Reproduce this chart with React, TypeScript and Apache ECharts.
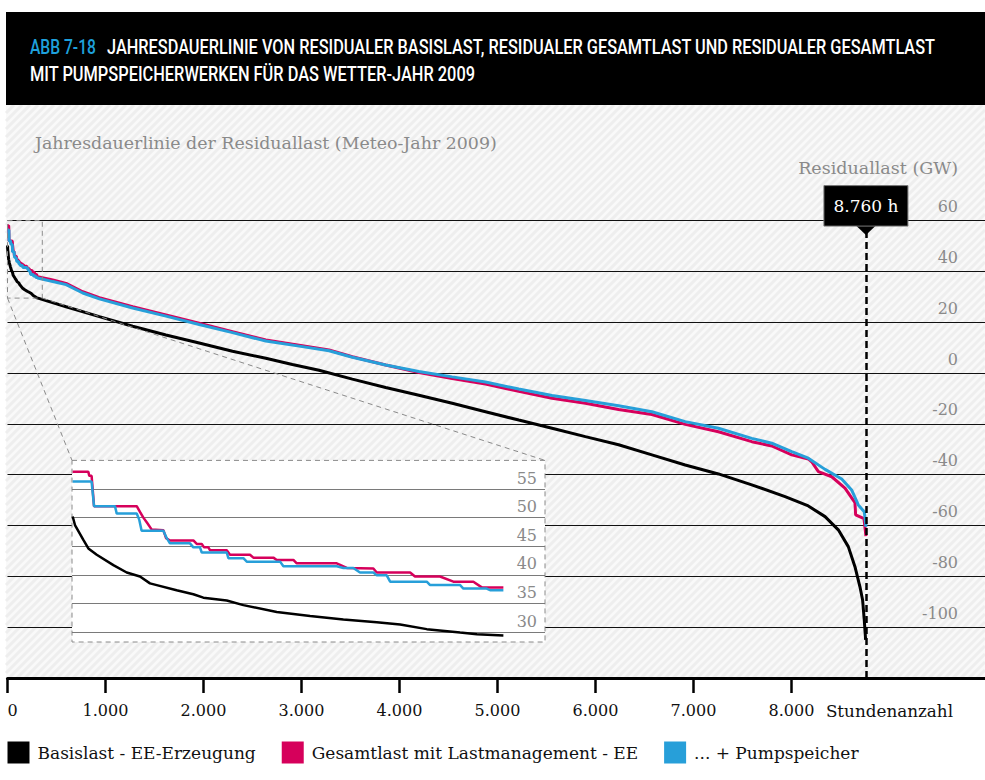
import React, { useEffect, useRef } from 'react';
import * as echarts from 'echarts';

// ---------- texts ----------
const titleCode = 'ABB 7-18';
const titleLine1 = 'JAHRESDAUERLINIE VON RESIDUALER BASISLAST, RESIDUALER GESAMTLAST UND RESIDUALER GESAMTLAST';
const titleLine2 = 'MIT PUMPSPEICHERWERKEN FÜR DAS WETTER-JAHR 2009';
const subtitle = 'Jahresdauerlinie der Residuallast (Meteo-Jahr 2009)';
const yAxisName = 'Residuallast (GW)';
const xAxisName = 'Stundenanzahl';
const seriesNames = ['Basislast - EE-Erzeugung', 'Gesamtlast mit Lastmanagement - EE', '... + Pumpspeicher'];
const seriesColors = ['#000000', '#d6005b', '#279fd9'];

// ---------- axes ----------
const xTicks = [0, 1000, 2000, 3000, 4000, 5000, 6000, 7000, 8000];
const xNameSlot = 9000;
const annualHours = 8760;
const zoomHours = [0, 355];
const zoomGW = [29.5, 60];
const insetHours = [0, 350];
const insetGW = [28.25, 60];

// ---------- data: inset (first hours, magnified) [hours, GW] ----------
const insetBasis: [number, number][] = [
  [0.5, 50.2], [2.2, 48.7], [8.4, 46.1], [12.1, 44.6], [18.3, 43.5], [30.6, 41.7], [40.5, 40.4],
  [50.3, 39.7], [57.7, 38.5], [62.7, 38.2], [77.4, 37.3], [89.8, 36.6], [97.2, 36.0], [114.5, 35.5],
  [126.8, 34.7], [151.5, 33.5], [176.2, 32.8], [200.8, 32.2], [225.5, 31.7], [242.8, 31.3],
  [262.5, 30.5], [287.2, 29.9], [299.6, 29.6], [319.2, 29.4],
];
const insetGesamt: [number, number][] = [
  [0.5, 58.0], [12.1, 58.0], [12.8, 57.3], [14.5, 57.3], [16.3, 52.0], [47.9, 52.0], [50.3, 51.0],
  [52.8, 50.0], [55.8, 49.0], [59.0, 47.9], [67.6, 47.8], [69.6, 46.4], [72.5, 46.0], [89.8, 46.0],
  [92.3, 45.4], [96.0, 45.4], [97.7, 44.8], [100.9, 44.8], [102.1, 44.3], [114.5, 44.3], [116.9, 43.5],
  [131.7, 43.5], [134.2, 43.0], [149.0, 43.0], [151.5, 42.6], [163.8, 42.6], [166.3, 42.0],
  [195.9, 42.0], [203.3, 41.2], [223.0, 41.1], [225.5, 40.4], [250.2, 40.4], [253.8, 39.7],
  [272.3, 39.7], [282.2, 38.8], [297.0, 38.8], [303.2, 37.8], [319.2, 37.8],
];
const insetPump: [number, number][] = [
  [0.5, 56.3], [14.5, 56.3], [16.3, 52.0], [31.8, 52.0], [33.1, 50.7], [47.9, 50.7], [49.8, 49.6],
  [51.5, 47.7], [67.6, 47.7], [70.1, 46.4], [72.5, 45.5], [87.3, 45.5], [89.8, 44.8], [94.7, 44.8],
  [96.0, 43.9], [114.5, 43.9], [115.7, 42.9], [126.8, 42.9], [129.3, 42.3], [154.0, 42.3],
  [156.4, 41.5], [195.9, 41.5], [200.8, 41.2], [208.2, 41.2], [213.1, 40.4], [223.0, 40.4],
  [225.5, 39.9], [232.9, 39.9], [235.4, 38.8], [262.5, 38.8], [265.0, 38.2], [287.2, 38.2],
  [289.6, 37.6], [306.9, 37.6], [309.4, 37.3], [319.2, 37.3],
];

// ---------- data: rest of the year [hours, GW] ----------
const mainBasis: [number, number][] = [
  [598, 26.1], [937, 22.2], [1277, 18.4], [1617, 15.0], [1956, 11.8], [2296, 8.6], [2636, 5.8],
  [2907, 3.4], [3179, 1.1], [3519, -2.4], [3859, -5.7], [4198, -8.7], [4538, -11.9], [4878, -15.2],
  [5217, -18.5], [5557, -21.7], [5897, -25.0], [6236, -28.2], [6576, -32.2], [6916, -36.2],
  [7255, -39.7], [7595, -44.0], [7935, -48.6], [8172, -52.3], [8343, -56.5], [8478, -61.7],
  [8580, -68.3], [8648, -76.2], [8699, -84.1], [8726, -89.3], [8743, -97.2], [8757, -105.0],
];
const mainGesamt: [number, number][] = [
  [462, 36.6], [598, 35.3], [768, 32.0], [937, 29.7], [1277, 26.1], [1617, 22.9], [1956, 19.6],
  [2296, 16.3], [2636, 13.0], [2976, 11.0], [3281, 9.1], [3519, 6.4], [3859, 3.2], [4198, 0.2],
  [4538, -2.1], [4878, -4.3], [5217, -7.2], [5557, -9.9], [5897, -11.9], [6236, -14.3],
  [6576, -16.3], [6916, -20.2], [7255, -23.1], [7595, -27.0], [7799, -28.7], [8003, -32.2],
  [8172, -33.8], [8206, -34.9], [8275, -38.8], [8411, -40.8], [8546, -45.3], [8648, -51.0],
  [8655, -55.8], [8740, -57.3], [8760, -64.2],
];
const mainPump: [number, number][] = [
  [462, 36.0], [598, 34.8], [768, 31.5], [937, 29.2], [1277, 25.6], [1617, 22.4], [1956, 19.1],
  [2296, 15.9], [2636, 12.6], [2976, 10.6], [3281, 8.8], [3519, 6.2], [3859, 3.2], [4198, 0.6],
  [4538, -1.5], [4878, -3.5], [5217, -6.3], [5557, -8.8], [5897, -10.8], [6236, -12.9],
  [6576, -15.2], [6916, -19.1], [7255, -21.7], [7595, -25.7], [7799, -27.6], [8003, -30.9],
  [8172, -33.5], [8343, -37.9], [8513, -41.7], [8614, -46.0], [8682, -51.9], [8743, -54.6],
  [8757, -59.1], [8760, -60.5],
];

const SERIF = "'DejaVu Serif', serif";
const GRAY = '#8a8a8a';

const fmtDE = (v: number) => String(v).replace(/\B(?=(\d{3})+(?!\d))/g, '.');

const measure = (text: string, font: string) => {
  const ctx = document.createElement('canvas').getContext('2d');
  if (!ctx) return 100;
  ctx.font = font;
  return ctx.measureText(text).width;
};

export default function App() {
  const ref = useRef<HTMLDivElement>(null);

  useEffect(() => {
    if (!ref.current) return;
    const chart = echarts.init(ref.current, undefined, { renderer: 'svg' });

    const insetSets = [insetBasis, insetGesamt, insetPump];
    const mainSets = [
      [...insetBasis, ...mainBasis],
      [...insetGesamt, ...mainGesamt],
      [...insetPump, ...mainPump],
    ];

    const option: any = {
      animation: false,
      backgroundColor: '#ffffff',
      legend: {
        left: 7.5,
        top: 741.5,
        padding: 0,
        itemWidth: 22,
        itemHeight: 22,
        itemGap: 26,
        icon: 'rect',
        selectedMode: false,
        data: seriesNames,
        textStyle: { fontFamily: SERIF, fontSize: 17, color: '#111', padding: [0, 0, 0, 3] },
      },
      grid: [
        { left: 7.5, right: 0, top: 220.6, bottom: 102 },
        { left: 72, right: 440, top: 460.4, bottom: 148 },
      ],
      xAxis: [
        {
          gridIndex: 0,
          type: 'value',
          min: 0,
          max: 9975,
          axisLine: { onZero: false, lineStyle: { color: '#000', width: 3 } },
          axisTick: { show: true, length: 15, customValues: xTicks, lineStyle: { color: '#000', width: 2.5 } },
          axisLabel: {
            customValues: [...xTicks, xNameSlot],
            formatter: (v: number) => (v === xNameSlot ? '{n|' + xAxisName + '}' : fmtDE(v)),
            rich: { n: { fontFamily: SERIF, fontSize: 16.8, color: '#111' } },
            margin: 24,
            color: '#111',
            fontFamily: SERIF,
            fontSize: 16,
            alignMinLabel: 'left',
          },
          splitLine: { show: false },
        },
        {
          gridIndex: 1,
          type: 'value',
          min: insetHours[0],
          max: insetHours[1],
          show: false,
        },
      ],
      yAxis: [
        {
          gridIndex: 0,
          type: 'value',
          min: -120,
          max: 60,
          interval: 20,
          position: 'right',
          name: yAxisName,
          nameLocation: 'end',
          nameGap: 53,
          nameTextStyle: {
            align: 'right',
            verticalAlign: 'middle',
            padding: [0, 27, 0, 0],
            color: GRAY,
            fontFamily: SERIF,
            fontSize: 17.5,
          },
          axisLine: { show: false, onZero: false },
          axisTick: { show: false },
          axisLabel: {
            inside: true,
            margin: 27,
            verticalAlign: 'bottom',
            lineHeight: 18,
            padding: [0, 0, 5, 0],
            color: GRAY,
            fontFamily: SERIF,
            fontSize: 16,
            formatter: (v: number) => (v === -120 ? '' : String(v)),
          },
          splitLine: { lineStyle: { color: '#111', width: 1 } },
        },
        {
          gridIndex: 1,
          type: 'value',
          min: 30,
          max: 60,
          interval: 5,
          position: 'right',
          z: 10,
          axisLine: { show: false, onZero: false },
          axisTick: { show: false },
          axisLabel: {
            inside: true,
            margin: 8,
            verticalAlign: 'bottom',
            lineHeight: 18,
            padding: [0, 0, 2, 0],
            color: GRAY,
            fontFamily: SERIF,
            fontSize: 16,
            showMaxLabel: false,
            formatter: (v: number) => (v === 60 ? '' : String(v)),
          },
          splitLine: { showMaxLine: false, lineStyle: { color: '#7a7a7a', width: 1 } },
        },
      ],
      series: [
        ...mainSets.map((d, i) => ({
          name: seriesNames[i],
          type: 'line',
          xAxisIndex: 0,
          yAxisIndex: 0,
          data: d,
          showSymbol: false,
          symbol: 'none',
          z: 2 + i * 0.1,
          lineStyle: { color: seriesColors[i], width: 3 },
          itemStyle: { color: seriesColors[i] },
          markLine:
            i === 0
              ? {
                  silent: true,
                  symbol: ['none', 'none'],
                  label: { show: false },
                  lineStyle: { color: '#000', width: 2.5, type: [7, 4] },
                  data: [{ xAxis: annualHours }],
                }
              : undefined,
        })),
        ...insetSets.map((d, i) => ({
          name: seriesNames[i],
          type: 'line',
          xAxisIndex: 1,
          yAxisIndex: 1,
          data: d,
          showSymbol: false,
          symbol: 'none',
          clip: false,
          z: 11 + i * 0.1,
          lineStyle: { color: seriesColors[i], width: 2.5 },
          itemStyle: { color: seriesColors[i] },
        })),
      ],
    };

    chart.setOption(option);

    // ----- decorations computed from the axes -----
    const W = 985;
    const bgTop = 105;
    const bgLeft = 6;
    const axisY = chart.convertToPixel({ gridIndex: 0 }, [0, -120]) as number[];
    const bgBottom = axisY[1];

    const hatch: any[] = [];
    const step = 8;
    for (let c = bgLeft + bgTop; c <= W + bgBottom; c += step) {
      const xa = Math.max(bgLeft, c - bgBottom);
      const xb = Math.min(W, c - bgTop);
      if (xa < xb) {
        hatch.push({
          type: 'line',
          silent: true,
          z: -9,
          shape: { x1: xa, y1: c - xa, x2: xb, y2: c - xb },
          style: { stroke: '#eeeeee', lineWidth: 3 },
        });
      }
    }

    const zb0 = chart.convertToPixel({ gridIndex: 0 }, [zoomHours[0], zoomGW[1]]) as number[];
    const zb1 = chart.convertToPixel({ gridIndex: 0 }, [zoomHours[1], zoomGW[0]]) as number[];
    const ib0 = chart.convertToPixel({ gridIndex: 1 }, [insetHours[0], insetGW[1]]) as number[];
    const ib1 = chart.convertToPixel({ gridIndex: 1 }, [insetHours[1], insetGW[0]]) as number[];
    const markPt = chart.convertToPixel({ gridIndex: 0 }, [annualHours, 60]) as number[];
    const markX = markPt[0];
    const markTop = markPt[1];

    const titleFont = (s: number) => `500 ${s}px Roboto`;
    const tSize = 20;
    const sCode = 66 / measure(titleCode, titleFont(tSize));
    const sL1 = 828 / measure(titleLine1, titleFont(tSize));
    const sL2 = 446 / measure(titleLine2, titleFont(tSize));

    const dash = { stroke: '#8a8a8a', lineWidth: 1, lineDash: [5, 4], fill: null };

    const graphic: any[] = [
      {
        type: 'rect',
        silent: true,
        z: -10,
        shape: { x: bgLeft, y: bgTop, width: W - bgLeft, height: bgBottom - bgTop },
        style: { fill: '#f9f9f9' },
      },
      ...hatch,
      {
        type: 'rect',
        silent: true,
        z: 20,
        shape: { x: 6, y: 12, width: W - 6, height: bgTop - 12 },
        style: { fill: '#000' },
      },
      {
        type: 'text',
        silent: true,
        z: 21,
        x: 30,
        y: 47,
        scaleX: sCode,
        style: { text: titleCode, fill: '#1ea0dc', fontFamily: 'Roboto', fontWeight: 500, fontSize: tSize, verticalAlign: 'middle', align: 'left' },
      },
      {
        type: 'text',
        silent: true,
        z: 21,
        x: 107,
        y: 47,
        scaleX: sL1,
        style: { text: titleLine1, fill: '#fff', fontFamily: 'Roboto', fontWeight: 500, fontSize: tSize, verticalAlign: 'middle', align: 'left' },
      },
      {
        type: 'text',
        silent: true,
        z: 21,
        x: 30,
        y: 73.5,
        scaleX: sL2,
        style: { text: titleLine2, fill: '#fff', fontFamily: 'Roboto', fontWeight: 500, fontSize: tSize, verticalAlign: 'middle', align: 'left' },
      },
      {
        type: 'text',
        silent: true,
        z: 21,
        x: 35,
        y: 143,
        style: { text: subtitle, fill: GRAY, fontFamily: SERIF, fontSize: 17.4, verticalAlign: 'middle', align: 'left' },
      },
      // zoom window in the main chart
      {
        type: 'rect',
        silent: true,
        z: 3,
        shape: { x: zb0[0], y: zb0[1], width: zb1[0] - zb0[0], height: zb1[1] - zb0[1] },
        style: dash,
      },
      {
        type: 'line',
        silent: true,
        z: 3,
        shape: { x1: zb0[0], y1: zb1[1], x2: ib0[0], y2: ib0[1] },
        style: dash,
      },
      {
        type: 'line',
        silent: true,
        z: 3,
        shape: { x1: zb1[0], y1: zb1[1], x2: ib1[0], y2: ib0[1] },
        style: dash,
      },
      // inset panel
      {
        type: 'rect',
        silent: true,
        z: 5,
        shape: { x: ib0[0], y: ib0[1], width: ib1[0] - ib0[0], height: ib1[1] - ib0[1] },
        style: { fill: '#fff', stroke: '#8a8a8a', lineWidth: 1, lineDash: [5, 4] },
      },
      // 8.760 h marker
      {
        type: 'polygon',
        silent: true,
        z: 20,
        shape: { points: [[markX - 10, markTop + 5], [markX + 10, markTop + 5], [markX, markTop + 14.5]] },
        style: { fill: '#000' },
      },
      {
        type: 'rect',
        silent: true,
        z: 20,
        shape: { x: markX - 42, y: markTop - 35, width: 84, height: 40.5 },
        style: { fill: '#000', stroke: '#7a7a7a', lineWidth: 1 },
      },
      {
        type: 'text',
        silent: true,
        z: 21,
        x: markX,
        y: markTop - 14.5,
        style: { text: fmtDE(annualHours) + ' h', fill: '#fff', fontFamily: SERIF, fontSize: 17, verticalAlign: 'middle', align: 'center' },
      },
    ];

    chart.setOption({ graphic });

    return () => chart.dispose();
  }, []);

  return (
    <div
      ref={ref}
      style={{ position: 'fixed', left: 0, top: 0, width: 985, height: 780, background: '#fff' }}
    />
  );
}
